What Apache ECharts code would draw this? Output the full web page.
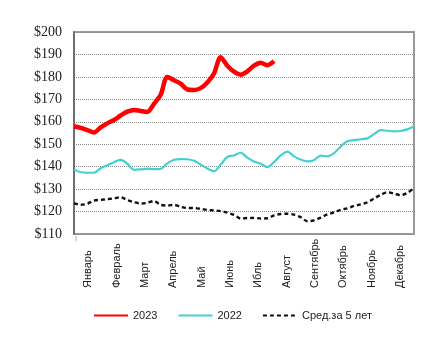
<!DOCTYPE html>
<html>
<head>
<meta charset="utf-8">
<script src="https://cdn.jsdelivr.net/npm/echarts@6/dist/echarts.min.js"></script>
<style>
  html, body { margin: 0; padding: 0; background: #fff; }
  #chart { width: 445px; height: 343px; }
</style>
</head>
<body>
<div id="chart"></div>
<script>
// Month labels along the x axis
const months = ['Январь', 'Февраль', 'Март', 'Апрель', 'Май', 'Июнь', 'Ибль', 'Август', 'Сентябрь', 'Октябрь', 'Ноябрь', 'Декабрь'];

// Weekly prices, $ (week index 0..51)
const prices2023 = [158, 157.3, 156.3, 155.2, 157.5, 159.3, 160.8, 162.8, 164.5, 165.3, 164.8, 164.4,
  168, 172, 180, 178.5, 177, 174.4, 174.2, 175, 177.5, 181.5, 188.8, 185, 182.3, 181, 182.5, 185,
  186.3, 185.2, 187];

const prices2022 = [138.8, 137.5, 137.3, 137.3, 139.3, 140.6, 142, 143, 141.3, 138.6, 138.8, 139.1,
  138.9, 139, 141.5, 143.1, 143.4, 143.3, 142.6, 141, 139.2, 138, 141, 144.3, 145, 146.2, 144,
  142.3, 141.3, 139.8, 142, 145, 146.7, 144.6, 143.2, 142.4, 142.9, 144.9, 144.6, 146, 149, 151.3,
  151.8, 152.2, 152.6, 154.5, 156.3, 156, 155.7, 155.9, 156.6, 158];

const avg5y = [123.8, 123, 123.5, 124.9, 125.2, 125.5, 125.9, 126.4, 125.1, 124.2, 123.6, 123.9,
  124.7, 123, 122.7, 123, 122.1, 121.6, 121.6, 121.2, 120.7, 120.5, 120.2, 119.5, 118.5, 116.9,
  117.1, 117.2, 116.9, 117, 118.3, 118.9, 119, 118.6, 117.5, 115.7, 116.1, 117.3, 118.7, 119.6,
  120.8, 121.4, 122.5, 123.2, 124.1, 125.8, 127.4, 128.6, 128, 127.3, 128.3, 130.5];

const seriesNames = ['2023', '2022', 'Сред.за 5 лет'];

const toPoints = arr => arr.map((v, i) => [i, v]);

const chart = echarts.init(document.getElementById('chart'), null, { renderer: 'canvas' });

chart.setOption({
  animation: false,
  backgroundColor: '#fff',
  grid: {
    left: 74, right: 31, top: 32, bottom: 109,
    show: true,
    borderColor: '#9a9a9a',
    borderWidth: 2,
    backgroundColor: 'transparent'
  },
  xAxis: [
    {
      type: 'category',
      data: months,
      boundaryGap: true,
      position: 'bottom',
      axisLine: { show: false },
      axisTick: { show: false },
      splitLine: { show: false },
      axisLabel: {
        rotate: 90,
        align: 'left',
        margin: 54,
        fontFamily: 'Liberation Sans',
        fontSize: 11,
        color: '#222'
      }
    },
    {
      type: 'value',
      min: 0,
      max: 51,
      show: false
    }
  ],
  yAxis: {
    type: 'value',
    min: 110,
    max: 200,
    interval: 10,
    axisLine: { show: true, lineStyle: { color: '#6e6e6e', width: 2 } },
    axisTick: { show: false },
    axisLabel: {
      formatter: v => '$' + v,
      fontFamily: 'Liberation Serif',
      fontSize: 14,
      color: '#222',
      margin: 12
    },
    splitLine: { show: true, lineStyle: { color: '#8c8c8c', type: 'dotted', width: 1 } }
  },
  legend: {
    data: seriesNames,
    left: 88,
    top: 305,
    itemWidth: 34,
    itemHeight: 10,
    itemGap: 20,
    itemStyle: { opacity: 0 },
    textStyle: { fontFamily: 'Liberation Sans', fontSize: 11, color: '#222' }
  },
  graphic: [
    {
      type: 'text',
      left: 75,
      top: 236,
      style: { text: 'I', fill: '#c8782a', font: '7px Liberation Sans' }
    }
  ],
  series: [
    {
      name: seriesNames[0],
      type: 'line',
      xAxisIndex: 1,
      data: toPoints(prices2023),
      smooth: 0.3,
      symbol: 'none',
      lineStyle: { color: '#ff0000', width: 4.5 },
      itemStyle: { color: '#ff0000' },
      z: 5
    },
    {
      name: seriesNames[1],
      type: 'line',
      xAxisIndex: 1,
      data: toPoints(prices2022),
      smooth: 0.3,
      symbol: 'none',
      lineStyle: { color: '#45cfcf', width: 2.2 },
      itemStyle: { color: '#45cfcf' },
      z: 4
    },
    {
      name: seriesNames[2],
      type: 'line',
      xAxisIndex: 1,
      data: toPoints(avg5y),
      smooth: 0.3,
      symbol: 'none',
      lineStyle: { color: '#111', width: 2.4, type: [4, 3] },
      itemStyle: { color: '#111' },
      z: 3
    }
  ]
});
</script>
</body>
</html>
